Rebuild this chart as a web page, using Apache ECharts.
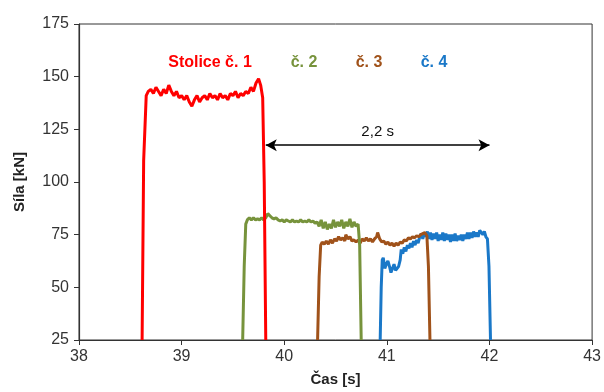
<!DOCTYPE html>
<html>
<head>
<meta charset="utf-8">
<script src="https://cdn.jsdelivr.net/npm/echarts@6/dist/echarts.min.js"></script>
<style>
  html, body { margin: 0; padding: 0; background: #fff; }
  #chart { width: 604px; height: 392px; }
</style>
</head>
<body>
<div id="chart"></div>
<script>
// Force traces of the four stands: [time s, force kN]
const stand1 = [
  [38.615,25],[38.63,110],[38.655,141],[38.675,143],[38.70,144],[38.725,142],[38.75,145],[38.775,143],
  [38.80,141],[38.825,144],[38.85,142],[38.875,146],[38.90,143],[38.925,141],[38.95,143],[38.975,140],
  [39.00,141],[39.025,139],[39.05,141],[39.075,138],[39.10,136],[39.125,139],[39.15,141],[39.175,138],
  [39.20,140],[39.225,141],[39.25,139],[39.275,142],[39.30,140],[39.325,141],[39.35,139],[39.375,142],
  [39.40,140],[39.425,141],[39.45,139],[39.475,142],[39.50,141],[39.525,143],[39.55,140],[39.575,142],
  [39.60,141],[39.625,143],[39.65,142],[39.675,145],[39.70,143],[39.725,147],[39.75,149],[39.77,146],
  [39.79,140],[39.805,100],[39.82,25]
];
const stand2 = [
  [39.595,25],[39.61,60],[39.625,80],[39.64,82],[39.66,83],[39.68,82],[39.70,83],[39.72,82],[39.74,82.5],
  [39.76,82],[39.78,83],[39.80,82],[39.82,83],[39.84,85],[39.86,84],[39.88,83],[39.90,82.5],[39.92,83],
  [39.94,82],[39.96,81.5],[39.98,82],[40.00,81],[40.02,82],[40.04,81.5],[40.06,81],[40.08,82],[40.10,81],
  [40.12,81.5],[40.14,81],[40.16,82],[40.18,81],[40.20,81.5],[40.22,81],[40.24,82],[40.26,81],[40.28,81.5],
  [40.30,80.5],[40.32,81],[40.34,79],[40.36,82],[40.38,78],[40.40,81],[40.42,77.5],[40.44,80],[40.46,78],
  [40.48,82],[40.50,78.5],[40.52,81],[40.54,79],[40.56,82],[40.58,78],[40.60,81],[40.62,79],[40.64,82.5],
  [40.66,78.5],[40.68,81],[40.70,79],[40.72,80],[40.735,70],[40.75,25]
];
const stand3 = [
  [40.325,25],[40.34,55],[40.355,70],[40.37,71.5],[40.39,70.5],[40.41,72],[40.43,70.5],[40.45,72.5],
  [40.47,71],[40.49,73],[40.51,72],[40.53,74],[40.55,72.5],[40.57,73.5],[40.59,72],[40.60,75],[40.62,73],
  [40.64,74],[40.66,72],[40.68,72.5],[40.70,71.5],[40.72,72.5],[40.74,71],[40.76,73],[40.78,72],[40.80,73.5],
  [40.82,72],[40.84,73],[40.86,71.5],[40.88,73],[40.90,74],[40.91,76],[40.93,73],[40.95,71.5],[40.97,72],
  [40.99,70.5],[41.01,71.5],[41.03,70],[41.05,71],[41.07,69.5],[41.09,71],[41.11,70],[41.13,71.5],[41.15,71],
  [41.17,72.5],[41.19,72],[41.21,73.5],[41.23,73],[41.25,74],[41.27,73.5],[41.29,74.5],[41.31,74],[41.33,75],
  [41.35,75.5],[41.37,76],[41.39,74.5],[41.405,60],[41.42,25]
];
const stand4 = [
  [40.935,25],[40.945,50],[40.955,63],[40.965,64],[40.98,59],[40.995,61],[41.01,62.5],[41.025,60],[41.04,57],
  [41.055,59],[41.07,61],[41.085,58],[41.10,57.5],[41.115,60],[41.13,63],[41.14,68],[41.155,66],[41.17,69],
  [41.185,67],[41.20,70],[41.215,68.5],[41.23,71],[41.245,69],[41.26,72],[41.275,70],[41.29,72.5],[41.305,71],
  [41.32,74],[41.335,75.5],[41.35,73],[41.365,76],[41.38,74],[41.395,76.5],[41.41,73],[41.425,76],[41.44,72.5],
  [41.455,75.5],[41.47,73],[41.485,76],[41.50,72],[41.515,75],[41.53,72.5],[41.545,76],[41.56,72],[41.575,75.5],
  [41.59,72.5],[41.605,75],[41.62,71.5],[41.635,75],[41.65,72],[41.665,75.5],[41.68,72],[41.695,74.5],[41.71,72.5],
  [41.725,75],[41.74,72],[41.755,75],[41.77,73],[41.785,76],[41.80,73],[41.815,76],[41.83,73.5],[41.845,76.5],
  [41.86,74],[41.875,76],[41.89,74],[41.905,77],[41.92,77.5],[41.935,75],[41.95,76.5],[41.965,74],[41.98,73],
  [41.995,60],[42.01,25]
];

// Delay between end of stand 1 and end of stand 4
const spanStart = [39.82, 117.5];
const spanEnd = [42.0, 117.5];
const spanText = '2,2 s';

const seriesNames = ['Stolice č. 1', 'č. 2', 'č. 3', 'č. 4'];
const seriesColors = ['#ff0000', '#77933c', '#a0521a', '#1a78c8'];

const xTicks = { min: 38, max: 43, step: 1 };
const yTicks = { min: 25, max: 175, step: 25 };

const font = 'Liberation Sans, Arial, sans-serif';
const chart = echarts.init(document.getElementById('chart'));

const traces = [stand1, stand2, stand3, stand4];

const series = traces.map((d, i) => ({
  name: seriesNames[i],
  type: 'line',
  data: d,
  showSymbol: false,
  symbol: 'none',
  smooth: false,
  lineStyle: { color: seriesColors[i], width: 3 },
  z: 5 - i + 2,
  animation: false
}));

series[0].markLine = {
  silent: true,
  animation: false,
  symbol: ['arrow', 'arrow'],
  symbolSize: [9, 11],
  lineStyle: { color: '#000', width: 1.5, type: 'solid' },
  label: {
    show: true,
    position: 'insideMiddleTop',
    formatter: spanText,
    color: '#111',
    fontFamily: font,
    fontSize: 15,
    distance: 6
  },
  data: [[{ coord: spanStart }, { coord: spanEnd }]]
};

const labelX = [210, 304, 369, 434];

chart.setOption({
  backgroundColor: '#fff',
  animation: false,
  grid: {
    left: 79, right: 11, top: 24, bottom: 49,
    show: true, borderColor: '#333', borderWidth: 1, backgroundColor: 'transparent'
  },
  xAxis: {
    type: 'value',
    min: xTicks.min, max: xTicks.max, interval: xTicks.step,
    name: 'Čas [s]',
    nameLocation: 'middle',
    nameGap: 32,
    nameTextStyle: { fontFamily: font, fontSize: 15, fontWeight: 'bold', color: '#222' },
    axisLine: { lineStyle: { color: '#333', width: 1.2 } },
    axisTick: { show: true, length: 5, lineStyle: { color: '#333' } },
    axisLabel: { fontFamily: font, fontSize: 16, color: '#333', margin: 9 },
    splitLine: { show: false }
  },
  yAxis: {
    type: 'value',
    min: yTicks.min, max: yTicks.max, interval: yTicks.step,
    name: 'Síla [kN]',
    nameLocation: 'middle',
    nameGap: 52,
    nameRotate: 90,
    nameTextStyle: { fontFamily: font, fontSize: 15, fontWeight: 'bold', color: '#222' },
    axisLine: { show: true, lineStyle: { color: '#333', width: 1.2 } },
    axisTick: { show: true, length: 5, lineStyle: { color: '#333' } },
    axisLabel: { fontFamily: font, fontSize: 16, color: '#333', margin: 10 },
    splitLine: { show: false }
  },
  graphic: seriesNames.map((n, i) => ({
    type: 'text',
    x: labelX[i],
    y: 63,
    silent: true,
    style: {
      text: n,
      fill: seriesColors[i],
      font: 'bold 16px ' + font,
      textAlign: 'center',
      textVerticalAlign: 'middle'
    }
  })),
  series: series
});
</script>
</body>
</html>
